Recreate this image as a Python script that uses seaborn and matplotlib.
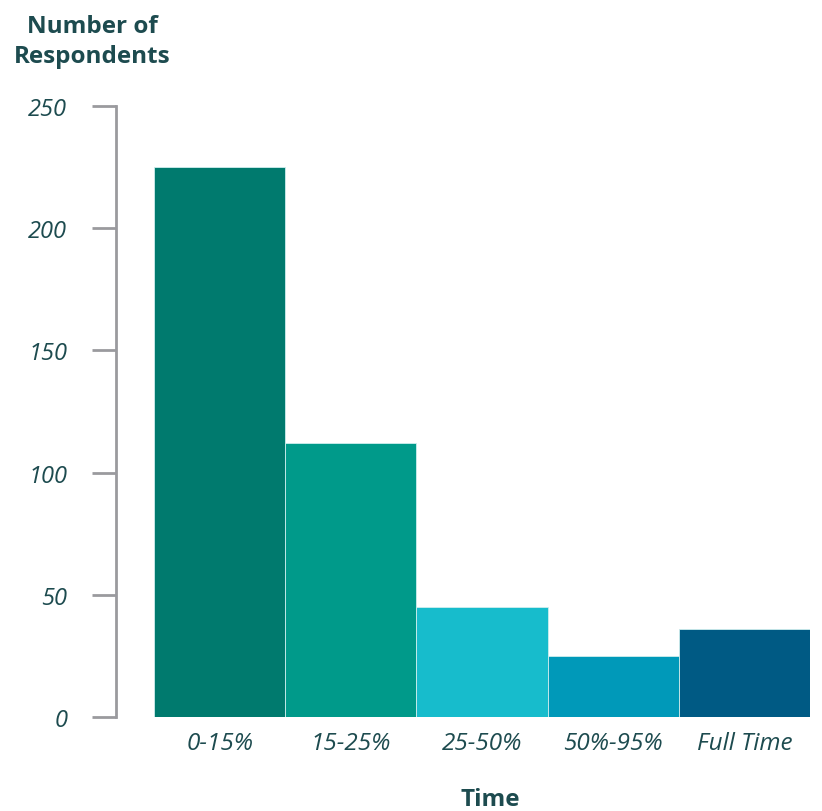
import matplotlib
matplotlib.use("Agg")
import matplotlib.pyplot as plt
import seaborn as sns
import pandas as pd

# data
categories = ["0-15%", "15-25%", "25-50%", "50%-95%", "Full Time"]
respondents = [225, 112, 45, 25, 36]
bar_colors = ["#007a6e", "#009a8a", "#17bccc", "#0099b9", "#005a84"]

text_color = "#1d4b4f"
axis_grey = "#9a9a9e"

df = pd.DataFrame({"Time": categories, "Respondents": respondents})

sns.set_style("white")
plt.rcParams["font.family"] = ["Open Sans", "DejaVu Sans"]

fig = plt.figure(figsize=(8.22, 8.12), dpi=100)
ax = fig.add_axes([116 / 822, 1 - 718 / 812, (810 - 116) / 822, (718 - 107) / 812])

sns.barplot(data=df, x="Time", y="Respondents", hue="Time", palette=bar_colors,
            legend=False, width=1.0, saturation=1, ax=ax,
            edgecolor="#cfeeee", linewidth=0.6)

ax.set_ylim(0, 250)
ax.set_xlim(-0.5 - 38 / 131, 4.5)
ax.set_yticks([0, 50, 100, 150, 200, 250])

sns.despine(ax=ax, top=True, right=True, bottom=True)
ax.spines["left"].set_color(axis_grey)
ax.spines["left"].set_linewidth(2)

ax.tick_params(axis="y", left=True, length=17, width=2, color=axis_grey, pad=18,
               labelsize=17, labelcolor=text_color)
ax.tick_params(axis="x", bottom=False, length=0, pad=10, labelsize=17.5,
               labelcolor=text_color)
for lbl in ax.get_xticklabels() + ax.get_yticklabels():
    lbl.set_fontstyle("italic")

ax.set_xlabel("")
ax.set_ylabel("")

fig.text(92 / 822, 1 - 42 / 812, "Number of\nRespondents", ha="center", va="center",
         fontsize=17.5, fontweight="bold", color=text_color, linespacing=1.35)
fig.text(490 / 822, 1 - 800 / 812, "Time", ha="center", va="center",
         fontsize=17.5, fontweight="bold", color=text_color)

fig.savefig("out.png", dpi=100, facecolor="white")
